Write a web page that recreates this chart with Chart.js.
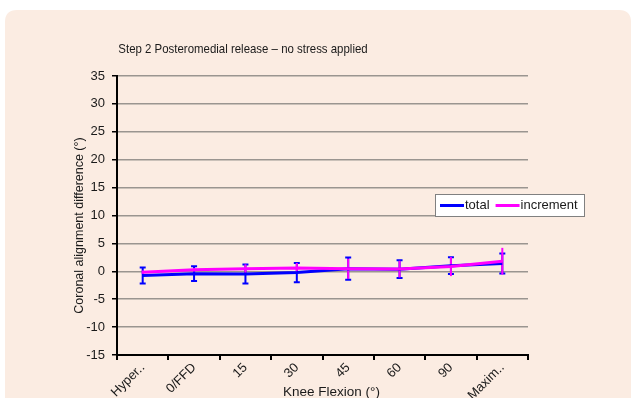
<!DOCTYPE html>
<html>
<head>
<meta charset="utf-8">
<script src="https://cdn.jsdelivr.net/npm/chart.js@4/dist/chart.umd.min.js"></script>
<style>
  html, body { margin: 0; padding: 0; background: #ffffff; }
  #wrap { width: 632px; height: 398px; position: relative; }
</style>
</head>
<body>
<div id="wrap"><canvas id="c" width="632" height="398"></canvas></div>
<script>
const categories = ['Hyper..', '0/FFD', '15', '30', '45', '60', '90', 'Maxim..'];
const totalValues = [-0.75, -0.42, -0.48, -0.22, 0.47, 0.38, 1.0, 1.4];
const totalErrors = [1.45, 1.32, 1.72, 1.72, 2.0, 1.58, 1.5, 1.8];
const incrementValues = [-0.15, 0.28, 0.45, 0.6, 0.45, 0.4, 0.84, 1.8];
const incrementErrors = [0.3, 0.3, 0.8, 0.9, 1.8, 1.5, 1.7, 2.4];
const yTicks = { min: -15, max: 35, step: 5 };

const chartTitle = 'Step 2 Posteromedial release \u2013 no stress applied';
const xTitle = 'Knee Flexion (\u00b0)';
const yTitle = 'Coronal alignment difference (\u00b0)';
const FONT = '"Liberation Sans", Arial, sans-serif';
const BLUE = '#0000ff';
const MAGENTA = '#ff00ff';

const panelPlugin = {
  id: 'panel',
  beforeDraw(chart) {
    const ctx = chart.ctx;
    ctx.save();
    ctx.fillStyle = '#fbece2';
    const x = 5, y = 10, w = chart.width - 6, h = chart.height + 20, r = 12;
    ctx.beginPath();
    ctx.moveTo(x + r, y);
    ctx.lineTo(x + w - r, y);
    ctx.quadraticCurveTo(x + w, y, x + w, y + r);
    ctx.lineTo(x + w, y + h);
    ctx.lineTo(x, y + h);
    ctx.lineTo(x, y + r);
    ctx.quadraticCurveTo(x, y, x + r, y);
    ctx.closePath();
    ctx.fill();
    ctx.restore();
  }
};

function drawErr(ctx, xs, ys, vals, errs, color, cap) {
  ctx.strokeStyle = color;
  ctx.lineWidth = 2;
  for (let i = 0; i < vals.length; i++) {
    const x = xs.getPixelForValue(i);
    const yt = ys.getPixelForValue(vals[i] + errs[i]);
    const yb = ys.getPixelForValue(vals[i] - errs[i]);
    ctx.beginPath();
    ctx.moveTo(x, yt); ctx.lineTo(x, yb);
    if (cap) {
      ctx.moveTo(x - 3, yt); ctx.lineTo(x + 3, yt);
      ctx.moveTo(x - 3, yb); ctx.lineTo(x + 3, yb);
    }
    ctx.stroke();
  }
}

const errorBarPlugin = {
  id: 'errorBars',
  beforeDatasetsDraw(chart) {
    const ctx = chart.ctx;
    const xs = chart.scales.x, ys = chart.scales.y;
    ctx.save();
    drawErr(ctx, xs, ys, totalValues, totalErrors, BLUE, true);
    drawErr(ctx, xs, ys, incrementValues, incrementErrors, MAGENTA, false);
    ctx.restore();
  }
};

const textPlugin = {
  id: 'texts',
  afterDraw(chart) {
    const ctx = chart.ctx;
    const a = chart.chartArea;
    ctx.save();
    ctx.fillStyle = '#1a1a1a';
    ctx.textBaseline = 'middle';
    ctx.textAlign = 'center';
    ctx.save();
    ctx.font = '13px ' + FONT;
    ctx.translate(a.left + 126, a.top - 27);
    ctx.scale(0.88, 1);
    ctx.fillText(chartTitle, 0, 0);
    ctx.restore();
    ctx.font = '13.5px ' + FONT;
    ctx.fillText(xTitle, (a.left + a.right) / 2 + 9, a.bottom + 37);
    ctx.font = '12.5px ' + FONT;
    ctx.save();
    ctx.translate(a.left - 37, (a.top + a.bottom) / 2 + 10);
    ctx.rotate(-Math.PI / 2);
    ctx.fillText(yTitle, 0, 0);
    ctx.restore();

    // legend
    const bx = a.right - 93, by = a.top + 118, bw = 150, bh = 23;
    ctx.fillStyle = '#ffffff';
    ctx.fillRect(bx, by, bw, bh);
    ctx.strokeStyle = '#808080';
    ctx.lineWidth = 1;
    ctx.strokeRect(bx + 0.5, by + 0.5, bw - 1, bh - 1);
    const my = by + bh / 2;
    const items = chart.data.datasets.map(d => ({ label: d.label, color: d.borderColor }));
    let cx = bx + 5;
    ctx.font = '13px ' + FONT;
    ctx.textAlign = 'left';
    items.forEach(it => {
      ctx.strokeStyle = it.color;
      ctx.lineWidth = 3;
      ctx.beginPath();
      ctx.moveTo(cx, my); ctx.lineTo(cx + 24, my);
      ctx.stroke();
      ctx.fillStyle = '#1a1a1a';
      ctx.fillText(it.label, cx + 25, my);
      cx += 25 + ctx.measureText(it.label).width + 6;
    });
    ctx.restore();
  }
};

new Chart(document.getElementById('c'), {
  type: 'line',
  data: {
    labels: categories,
    datasets: [
      { label: 'total', data: totalValues, borderColor: BLUE, backgroundColor: BLUE,
        borderWidth: 3, pointRadius: 0, tension: 0, order: 1 },
      { label: 'increment', data: incrementValues, borderColor: MAGENTA, backgroundColor: MAGENTA,
        borderWidth: 3, pointRadius: 0, tension: 0, order: 0 }
    ]
  },
  options: {
    responsive: false,
    animation: false,
    devicePixelRatio: 1,
    layout: { padding: { left: 0, top: 76, right: 104, bottom: 0 } },
    plugins: { legend: { display: false }, title: { display: false }, tooltip: { enabled: false } },
    scales: {
      x: {
        offset: true,
        grid: { display: true, offset: true, drawOnChartArea: false, drawTicks: true, tickLength: 5, tickColor: '#000', lineWidth: 2 },
        border: { display: true, color: '#000', width: 2 },
        ticks: { color: '#1a1a1a', font: { family: FONT, size: 13 }, minRotation: 45, maxRotation: 45, autoSkip: false, padding: 0 },
        afterFit(s) { s.height = 43; }
      },
      y: {
        min: yTicks.min, max: yTicks.max,
        grid: { color: '#9a9590', lineWidth: 1.5, drawTicks: true, tickLength: 5, tickColor: '#000' },
        border: { display: true, color: '#000', width: 2 },
        ticks: { stepSize: yTicks.step, color: '#1a1a1a', font: { family: FONT, size: 13 }, padding: 7 },
        afterFit(s) { s.width = 117; }
      }
    }
  },
  plugins: [panelPlugin, errorBarPlugin, textPlugin]
});
</script>
</body>
</html>
